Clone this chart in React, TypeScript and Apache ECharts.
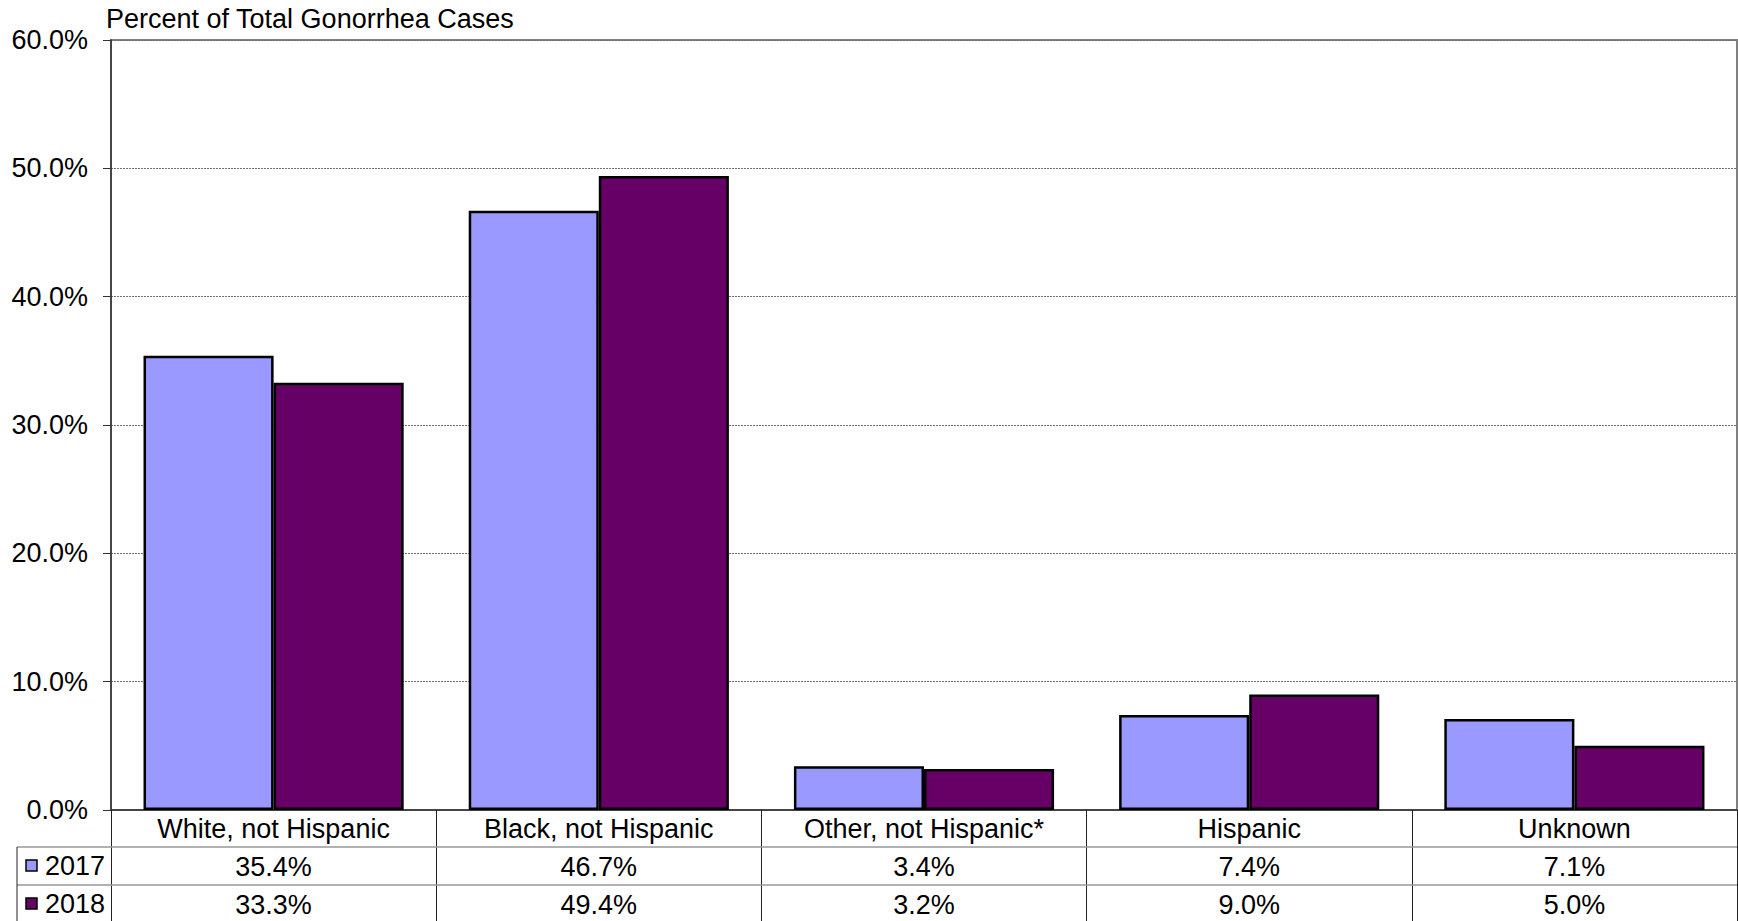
import React, { useEffect, useRef } from "react";
import * as echarts from "echarts";

const categories = ["White, not Hispanic", "Black, not Hispanic", "Other, not Hispanic*", "Hispanic", "Unknown"];
const seriesNames = ["2017", "2018"];
const values2017 = [35.4, 46.7, 3.4, 7.4, 7.1];
const values2018 = [33.3, 49.4, 3.2, 9.0, 5.0];
const seriesColors = ["#9999FF", "#660066"];
const yTitle = "Percent of Total Gonorrhea Cases";

const FONT = "'Liberation Sans', Arial, sans-serif";
const FS = 27;
const W = 1738;
const H = 921;
const GL = 111;
const GT = 40;
const GR = 1;
const GB = 111;

export default function App() {
  const ref = useRef<HTMLDivElement>(null);
  useEffect(() => {
    if (!ref.current) return;
    const chart = echarts.init(ref.current, undefined, { renderer: "svg" });
    const fmt = (v: number) => v.toFixed(1) + "%";
    const axisY0 = H - GB; // 810
    const row1 = axisY0 + 37;
    const row2 = row1 + 38;
    const row3 = row2 + 38;
    const right = W - GR;
    const hLine = (y: number) => ({
      type: "line",
      shape: { x1: 17, y1: y, x2: right, y2: y },
      style: { stroke: "#999999", lineWidth: 1.5 },
      z: 10,
    });
    const legendItem = (i: number, cy: number) => [
      {
        type: "rect",
        shape: { x: 26, y: cy - 6, width: 11, height: 11 },
        style: { fill: seriesColors[i], stroke: "#000", lineWidth: 1.5 },
        z: 10,
      },
      {
        type: "text",
        x: 45,
        y: cy,
        style: {
          text: seriesNames[i],
          font: `${FS}px ${FONT}`,
          fill: "#000",
          textVerticalAlign: "middle",
          textAlign: "left",
        },
        z: 10,
      },
    ];
    const labelAxis = (data: string[], margin: number) => ({
      type: "category",
      gridIndex: 0,
      position: "bottom",
      data,
      axisLine: { show: false },
      axisTick: { show: false },
      axisLabel: { margin, fontSize: FS, fontFamily: FONT, color: "#000", interval: 0 },
      splitLine: { show: false },
    });
    chart.setOption({
      animation: false,
      backgroundColor: "#fff",
      title: {
        text: yTitle,
        left: 106,
        top: 5,
        padding: 0,
        textStyle: { fontSize: FS, fontWeight: "normal", fontFamily: FONT, color: "#000" },
      },
      grid: {
        left: GL,
        right: GR,
        top: GT,
        bottom: GB,
        show: true,
        borderColor: "#808080",
        borderWidth: 2,
        backgroundColor: "transparent",
      },
      xAxis: [
        {
          type: "category",
          data: categories,
          position: "bottom",
          axisLine: { show: true, lineStyle: { color: "#333", width: 1.5 } },
          axisTick: { show: true, length: 111, inside: false, lineStyle: { color: "#222", width: 1 } },
          axisLabel: { margin: 5, fontSize: FS, fontFamily: FONT, color: "#000", interval: 0 },
          splitLine: { show: false },
        },
        labelAxis(values2017.map(fmt), 43),
        labelAxis(values2018.map(fmt), 81),
      ],
      yAxis: {
        type: "value",
        min: 0,
        max: 60,
        interval: 10,
        axisLine: { show: true, lineStyle: { color: "#333", width: 1.5 } },
        axisTick: { show: true, length: 8, lineStyle: { color: "#333" } },
        axisLabel: { formatter: fmt, margin: 23, fontSize: FS, fontFamily: FONT, color: "#000" },
        splitLine: { show: true, lineStyle: { color: "#707070", width: 1, type: [2, 1] } },
      },
      series: [
        {
          name: seriesNames[0],
          type: "bar",
          data: values2017,
          barWidth: "40%",
          barGap: "0%",
          itemStyle: { color: seriesColors[0], borderColor: "#000", borderWidth: 2.5 },
        },
        {
          name: seriesNames[1],
          type: "bar",
          data: values2018,
          barWidth: "40%",
          barGap: "0%",
          itemStyle: { color: seriesColors[1], borderColor: "#000", borderWidth: 2.5 },
        },
      ],
      graphic: [
        hLine(row1),
        hLine(row2),
        hLine(row3 - 1),
        {
          type: "line",
          shape: { x1: 17, y1: row1, x2: 17, y2: H },
          style: { stroke: "#222", lineWidth: 1 },
          z: 10,
        },
        ...legendItem(0, (row1 + row2) / 2),
        ...legendItem(1, (row2 + row3) / 2),
      ],
    });
    return () => chart.dispose();
  }, []);
  return (
    <div
      ref={ref}
      style={{ position: "fixed", left: 0, top: 0, width: W, height: H, background: "#fff" }}
    />
  );
}
